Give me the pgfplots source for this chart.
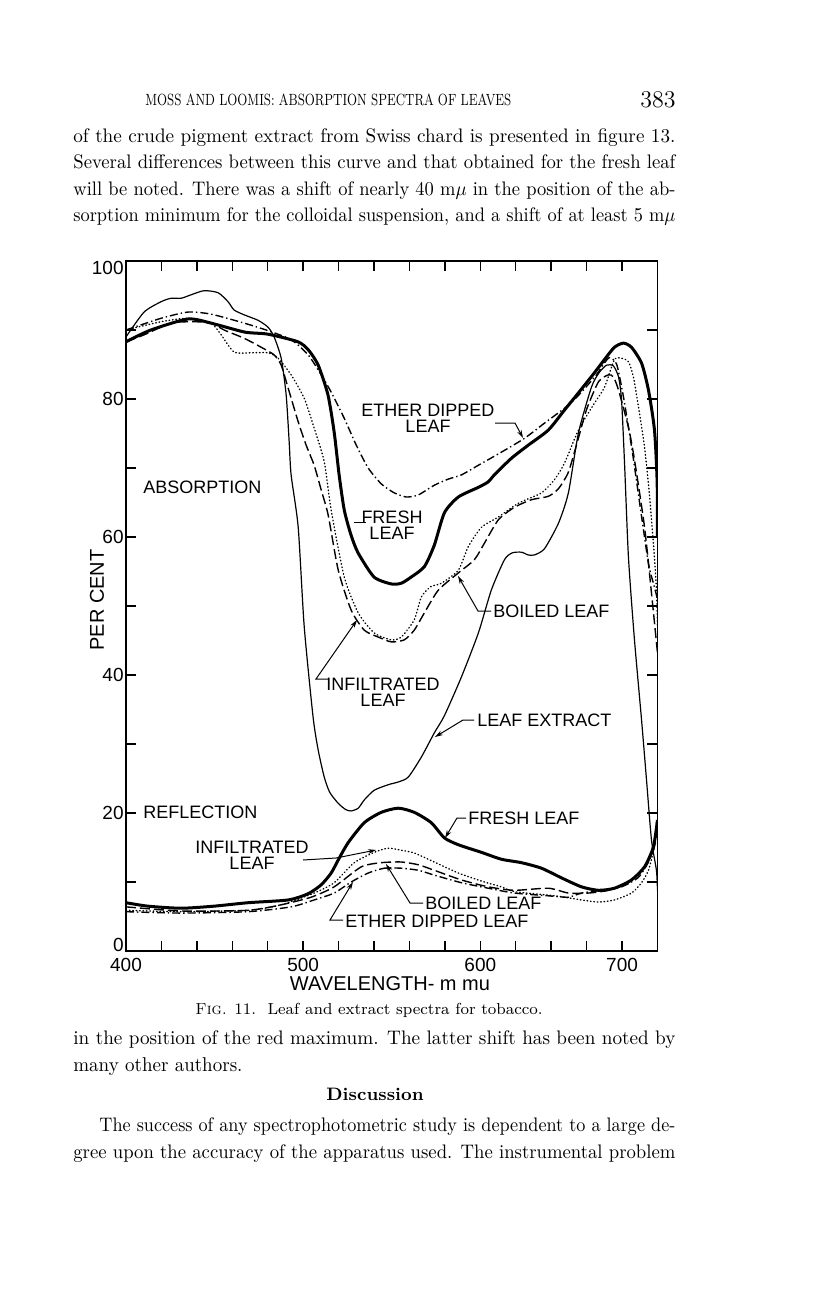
\documentclass[border=0pt]{standalone}
\usepackage{fontspec}
\usepackage{graphicx}
\usepackage{pgfplots}
\pgfplotsset{compat=1.18}
\usetikzlibrary{arrows.meta}
\newfontfamily\lab{Liberation Sans}
\newcommand{\bodyline}[2]{\resizebox{#1}{6.9pt}{\fontsize{10}{12}\selectfont #2}}
\begin{document}
\begin{tikzpicture}[x=0.5pt,y=-0.5pt]
\path[use as bounding box, fill=white] (0,0) rectangle (816,1291);

% ---- page text above ----
\node[anchor=base west, inner sep=0] at (145,105) {\resizebox{183pt}{5.8pt}{\fontsize{8}{9}\selectfont MOSS AND LOOMIS: ABSORPTION SPECTRA OF LEAVES}};
\node[anchor=base east, inner sep=0, font=\fontsize{12}{14}\selectfont] at (676,107) {383};
\node[anchor=base west, inner sep=0] at (73,142) {\bodyline{301pt}{of the crude pigment extract from Swiss chard is presented in figure 13.}};
\node[anchor=base west, inner sep=0] at (73,168) {\bodyline{301pt}{Several differences between this curve and that obtained for the fresh leaf}};
\node[anchor=base west, inner sep=0] at (73,195) {\bodyline{301pt}{will be noted.  There was a shift of nearly 40 m$\mu$ in the position of the ab-}};
\node[anchor=base west, inner sep=0] at (73,221) {\bodyline{301pt}{sorption minimum for the colloidal suspension, and a shift of at least 5 m$\mu$}};

% ---- chart ----
\begin{axis}[
  at={(63pt,-475.5pt)}, anchor=south west,
  scale only axis, width=265.75pt, height=345pt,
  xmin=400, xmax=700, ymin=0, ymax=100,
  xtick={400,420,...,700},
  xticklabels={400,,,,,500,,,,,600,,,,700,},
  ytick={0,10,...,100},
  yticklabels={\raisebox{0pt}[0pt][0pt]{0},,20,,40,,60,,80,,\raisebox{-6.5pt}[0pt][0pt]{100}},
  major tick length=5pt,
  every tick/.style={black, line width=0.7pt},
  axis line style={line width=0.9pt},
  tick label style={font=\lab\fontsize{9.5}{11}\selectfont},
  yticklabel style={inner xsep=1pt, inner ysep=0pt},
  xticklabel style={inner ysep=3.5pt},
  /pgf/number format/assume math mode=true,
]
% leaf extract (thin solid)
\addplot[black, line width=0.6pt, smooth, tension=0.4] coordinates {
(400,89.0) (410.2,92.6) (419.8,94.1) (425.4,94.6) (431.1,94.6) (436.7,95.1) (444.1,95.7) (452,95.4) (457.6,94.1) (461,92.9) (466.7,92.2) (474.6,91.4) (480.2,90.4) (483.6,89.0) (487.6,85.9) (490.4,80.6) (492.1,73.8) (493.2,69.0) (497.2,61.4) (500.6,47.0) (505.6,33.9) (508.5,29.1) (511.9,25.2) (515,23) (519.8,21.4) (524,20.5) (527.1,20.3) (531.1,20.7) (534.5,21.9) (540.1,23.3) (548,24.1) (553.7,24.5) (559.3,25.2) (566.7,28.1) (574,31.6) (579.7,34.1) (589.3,39.7) (598.9,46.1) (606.2,52.3) (613.6,56.7) (618,57.7) (623.2,57.8) (627,57.4) (630.5,57.4) (636.2,58.3) (644.1,62.0) (649.7,66.4) (655.4,75.1) (662.7,81.7) (667,83.8) (671.2,84.9) (675.1,84.8) (678,83.2) (679.7,79.9) (681.4,70.7) (683.6,57.1) (687,45.1) (691,33.5) (693.8,24.8) (696.6,16.1) (699.4,11.7) (700,8.8)};
% fresh leaf (thick solid)
\addplot[black, line width=1.5pt, smooth, tension=0.4] coordinates {
(400,88.3) (414,90.0) (435,91.6) (448,91.0) (467,89.7) (480,89.4) (497,88.3) (503,87.1) (508.5,84.9) (514,80.6) (517.5,75.2) (520.3,69.0) (523.2,63.9) (527,60.3) (531,57.7) (540,54.2) (549.7,53.2) (555.4,53.3) (561,54.2) (568.4,55.7) (574,58.8) (579.7,63.5) (587.6,65.8) (598.9,67.2) (604.5,68.0) (607.9,69.0) (617.5,71.4) (627,73.3) (638.4,75.5) (647.5,78.4) (655.4,80.9) (664.4,83.8) (670,85.7) (675.7,87.5) (680.8,88.1) (685.3,87.5) (691,85.2) (694.9,81.3) (698.3,75.5) (699.8,68) (700,60)};
% ether dipped (dash dot)
\addplot[black, line width=0.7pt, smooth, tension=0.4, dash pattern=on 4pt off 1.5pt on 0.7pt off 1.5pt] coordinates {
(400,90.0) (419.8,91.7) (435,92.6) (448,92.3) (466.7,91.0) (480.2,89.9) (493.2,88.6) (502.8,86.4) (510.2,83.5) (515.8,81.0) (523.2,77.2) (530,73.3) (536.7,70.0) (544.1,67.7) (551.4,66.4) (558.2,65.8) (565,66.1) (574,67.5) (582,68.4) (589.3,69.0) (598.9,70.4) (611.9,72.3) (624.9,74.3) (636.2,76.5) (649.7,79.1) (657.1,81.0) (665.5,83.5) (670,85.2) (673,86.0) (677,85) (681,80) (686,72) (691,63) (695,56) (698,53) (700,51)};
% boiled (dashed)
\addplot[black, line width=0.7pt, smooth, tension=0.4, dash pattern=on 5pt off 2pt] coordinates {
(400,88.3) (410.2,89.3) (425.4,91.0) (438.4,91.2) (448,91.0) (455.4,90.0) (466.7,88.8) (476.3,87.5) (483.6,86.4) (487.6,84.9) (491.5,81.6) (497.2,76.7) (501.7,73.3) (506.2,70.4) (510.2,66.8) (514.1,63.2) (519.8,55.2) (527.1,49.4) (534.5,46.5) (542.4,45.5) (549.7,44.8) (557.1,45.1) (562.7,46.5) (568.4,49.0) (576.3,52.3) (587.6,54.8) (596.6,56.7) (602.3,59.1) (610.2,62.5) (619.2,64.3) (628.8,65.4) (638.4,65.9) (644.1,67.0) (649.7,69.4) (655,74) (660,78.5) (666.7,82.5) (672.3,83.5) (675.1,83.2) (678,81.3) (683.6,75.9) (687,71.2) (692.7,61.4) (696.6,51.9) (700,43.2)};
% infiltrated (dotted)
\addplot[black, line width=0.7pt, smooth, tension=0.4, line cap=round, dash pattern=on 0.3pt off 1.4pt] coordinates {
(400,90.0) (419.8,91.2) (435,91.7) (448,91.0) (453.7,89.3) (461,86.8) (470.6,86.7) (480.2,86.7) (485.9,85.9) (493.2,83.5) (500.6,80.1) (506.2,75.8) (511.9,70.9) (515.8,63.9) (523.2,54.2) (531.1,49.0) (540.1,46.1) (549.7,45.1) (555.4,45.5) (562.7,48.0) (566.7,51.3) (572,52.8) (578,53.3) (587.6,55.2) (593.2,58.6) (600.6,61.4) (610.2,62.9) (621.5,64.9) (634.5,66.4) (641.8,68.3) (647.5,70.7) (655.4,75.5) (664.4,79.4) (670.1,81.7) (675.7,85.7) (679.7,85.9) (683.6,85.4) (686.4,83.2) (689.3,78.8) (692.7,73.0) (695.5,66) (698,58) (699.5,52) (700,47)};
% ---- reflection ----
\addplot[black, line width=1.5pt, smooth, tension=0.4] coordinates {
(400,7.0) (412.4,6.5) (431.1,6.2) (449.7,6.5) (468.9,7.0) (491.5,7.4) (502.8,8.3) (510.2,9.6) (515.8,11.3) (519.8,13.2) (525.4,15.7) (534.5,18.6) (544.1,20.1) (553.7,20.7) (562.7,20.1) (572.3,18.6) (579.7,16.4) (587.6,15.4) (600.6,14.3) (611.9,13.3) (623.2,12.8) (634.5,12.0) (645.8,10.6) (657.1,9.3) (666.7,8.8) (675.7,9.1) (685.3,10.3) (692.7,12.2) (697.7,15.1) (700,19.0)};
\addplot[black, line width=0.7pt, smooth, tension=0.4, line cap=round, dash pattern=on 0.3pt off 1.4pt] coordinates {
(400,5.9) (431.1,5.7) (468.9,5.9) (487.6,6.7) (506.2,8.4) (517.5,9.9) (528.8,12.8) (540.1,14.3) (548,14.9) (555.4,14.6) (562.7,14.2) (574,12.9) (587.6,11.3) (602.3,10.0) (611.9,9.3) (619.2,8.6) (638.4,8.1) (647.5,7.8) (657.1,7.4) (666.7,7.1) (675.7,7.4) (685.3,8.4) (691,9.9) (694.9,11.7) (697.7,14.6) (699.4,18.6)};
\addplot[black, line width=0.7pt, smooth, tension=0.4, dash pattern=on 5pt off 2pt] coordinates {
(400,6.4) (431.1,5.8) (468.9,5.9) (487.6,6.7) (504.5,7.8) (517.5,9.3) (532.8,12.2) (544.1,12.8) (555.4,12.9) (565,12.5) (574,11.7) (589.3,10.3) (604.5,9.3) (619.2,8.8) (638.4,9.1) (649.7,8.4) (661,8.4) (672.3,8.8) (683.6,9.9) (692.7,12.2) (697.7,14.6) (700,17.5)};
\addplot[black, line width=0.7pt, smooth, tension=0.4, dash pattern=on 4pt off 1.5pt on 0.7pt off 1.5pt] coordinates {
(400,5.7) (431.1,5.5) (468.9,5.7) (493.2,6.4) (506.2,7.4) (517.5,8.4) (527.1,10.0) (536.7,11.3) (545.8,12.0) (555.4,12.0) (565,11.7) (574,11.0) (589.3,9.9) (604.5,9.1) (619.2,8.4) (638.4,8.0) (649.7,7.8) (657.1,8.4) (668.4,8.8) (679.7,9.3) (689.3,10.7) (695.5,13.2) (699.4,16.1)};
\end{axis}

% ---- axis titles ----
\node[font=\lab\fontsize{10}{12}\selectfont, rotate=90] at (97,600) {PER CENT};
\node[font=\lab\fontsize{10}{11}\selectfont, inner sep=0] at (390,984) {WAVELENGTH- m mu};

% ---- chart labels ----
\begin{scope}[every node/.style={font=\lab\fontsize{9}{8}\selectfont, inner sep=0}]
\node[anchor=west] at (143,487) {ABSORPTION};
\node[anchor=west] at (143,812) {REFLECTION};
\node[align=center] at (428,418) {ETHER DIPPED\\LEAF};
\node[align=center] at (392,525) {FRESH\\LEAF};
\node[anchor=west] at (493,611) {BOILED LEAF};
\node[align=center] at (383,692) {INFILTRATED\\LEAF};
\node[anchor=west] at (477,720) {LEAF EXTRACT};
\node[anchor=west] at (468,818) {FRESH LEAF};
\node[align=center] at (252,855) {INFILTRATED\\LEAF};
\node[anchor=west] at (425,903) {BOILED LEAF};
\node[anchor=west] at (345,921) {ETHER DIPPED LEAF};
\end{scope}

% ---- leader lines ----
\begin{scope}[line width=0.5pt, arr/.style={-{Stealth[length=4pt,width=2.4pt]}}]
\draw[arr] (495,423) -- (515,423) -- (523,438);
\draw (354,522) -- (366,522);
\draw[arr] (491,611) -- (478,611) -- (458,576);
\draw[arr] (328,679) -- (316,679) -- (357,620);
\draw[arr] (474,720) -- (463,720) -- (435,737);
\draw[arr] (466,818) -- (457,818) -- (445,838);
\draw[arr] (303,860) -- (336,858) -- (376,850);
\draw[arr] (423,903) -- (410,903) -- (386,864);
\draw[arr] (343,920) -- (330,920) -- (353,882);
\end{scope}

% ---- page text below ----
\node[anchor=base, inner sep=0, font=\fontsize{8}{10}\selectfont] at (369,1014) {\textsc{Fig.} 11.\ \ Leaf and extract spectra for tobacco.};
\node[anchor=base west, inner sep=0] at (73,1044) {\bodyline{301pt}{in the position of the red maximum.  The latter shift has been noted by}};
\node[anchor=base west, inner sep=0, font=\fontsize{10}{12}\selectfont] at (73,1071) {\scalebox{0.95}[1]{many other authors.}};
\node[anchor=base, inner sep=0, font=\fontsize{9}{11}\selectfont\bfseries] at (375,1100) {Discussion};
\node[anchor=base west, inner sep=0] at (99,1131) {\bodyline{288pt}{The success of any spectrophotometric study is dependent to a large de-}};
\node[anchor=base west, inner sep=0] at (73,1158) {\bodyline{301pt}{gree upon the accuracy of the apparatus used.  The instrumental problem}};
\end{tikzpicture}
\end{document}
